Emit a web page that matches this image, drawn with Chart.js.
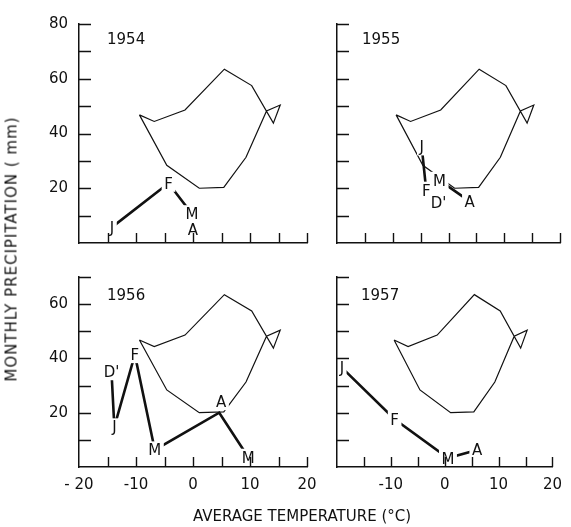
<!DOCTYPE html>
<html>
<head>
<meta charset="utf-8">
<script src="https://cdn.jsdelivr.net/npm/chart.js@4/dist/chart.umd.min.js"></script>
<style>
html, body { margin: 0; padding: 0; background: #fff; overflow: hidden; }
body { width: 571px; height: 527px; position: relative; font-family: "DejaVu Sans", sans-serif; color: #111; }
canvas { position: absolute; }
.ttl { position: absolute; font-size: 15px; line-height: 15px; white-space: nowrap; transform-origin: center; }
#xTitle { left: 302px; top: 516px; transform: translate(-50%, -50%); }
#yTitle { left: 12px; top: 249px; letter-spacing: 1px; transform: translate(-50%, -50%) rotate(-90deg); }
</style>
</head>
<body>
<canvas id="c1954"></canvas>
<canvas id="c1955"></canvas>
<canvas id="c1956"></canvas>
<canvas id="c1957"></canvas>
<div id="xTitle" class="ttl">AVERAGE TEMPERATURE (°C)</div>
<div id="yTitle" class="ttl">MONTHLY PRECIPITATION ( mm)</div>
<script>
// long term average loop (same in every panel)
const loopTemp = [-9.4, -6.8, -1.4, 5.5, 10.3, 14.1, 15.3, 12.9, 9.3, 5.4, 1.1, -4.6];
const loopPrecip = [46.8, 44.4, 48.6, 63.5, 57.5, 43.8, 50.4, 48.2, 31.3, 20.3, 20.0, 28.4];

const months1954 = ['J', 'F', 'M', 'A'];
const temp1954 = [-14.2, -4.3, -0.2, 0.0];
const precip1954 = [5.8, 21.8, 10.7, 5.1];

const months1955 = ['J', 'F', 'M', 'A'];
const temp1955 = [-4.8, -4.0, -1.6, 3.8];
const precip1955 = [35.1, 19.3, 22.9, 15.2];
const loneMonths1955 = ["D'"];
const loneTemp1955 = [-1.8];
const lonePrecip1955 = [14.9];

const months1956 = ["D'", 'J', 'F', 'M', 'A', 'M'];
const temp1956 = [-14.3, -13.8, -10.2, -6.7, 4.6, 9.7];
const precip1956 = [35.1, 14.8, 41.4, 6.3, 20.0, 3.6];

const months1957 = ['J', 'F', 'M', 'A'];
const temp1957 = [-19.1, -9.3, 0.6, 6.0];
const precip1957 = [36.6, 17.6, 3.3, 6.3];

const xLabelValues = [-20, -10, 0, 10, 20];
const xLabelTexts = ['- 20', '-10', '0', '10', '20'];
const yLabelValues = [20, 40, 60, 80];

const toPts = (xs, ys) => xs.map((v, i) => ({x: v, y: ys[i]}));

Chart.defaults.font.family = '"DejaVu Sans", sans-serif';
Chart.defaults.font.size = 15;
Chart.defaults.color = '#111';

const FONT = '15px "DejaVu Sans"';

const decor = {
    id: 'decor',
    afterDatasetsDraw(chart, args, opts) {
        const ctx = chart.ctx;
        const area = chart.chartArea;
        const xs = chart.scales.x, ys = chart.scales.y;
        ctx.save();
        ctx.font = FONT;
        // labels on white patches, cut the lines like in the print
        ctx.save();
        ctx.beginPath();
        ctx.rect(area.left + 1.5, area.top, area.right - area.left, area.bottom - area.top - 1.5);
        ctx.clip();
        chart.data.datasets.forEach((ds, i) => {
            if (!ds.monthLabels) return;
            const meta = chart.getDatasetMeta(i);
            ds.monthLabels.forEach((m, j) => {
                const el = meta.data[j];
                const nudge = (ds.labelNudge && ds.labelNudge[j]) || [0, 0];
                const cx = el.x + nudge[0], cy = el.y + nudge[1];
                const w = ctx.measureText(m).width;
                ctx.fillStyle = '#fff';
                ctx.fillRect(cx - w / 2 - 2.5, cy - 8.5, w + 5, 17);
                ctx.fillStyle = '#111';
                ctx.textAlign = 'center';
                ctx.fillText(m, cx, cy + 5.5);
            });
        });
        ctx.restore();

        // inward tick marks
        ctx.strokeStyle = '#111';
        ctx.lineWidth = 1.4;
        ctx.beginPath();
        xs.ticks.forEach(t => {
            if (t.value === xs.min) return;
            const px = Math.round(xs.getPixelForValue(t.value)) + 0.5;
            ctx.moveTo(px, area.bottom);
            ctx.lineTo(px, area.bottom - 10);
        });
        ys.ticks.forEach(t => {
            if (t.value === ys.min) return;
            const py = Math.round(ys.getPixelForValue(t.value)) + 0.5;
            ctx.moveTo(area.left, py);
            ctx.lineTo(area.left + 12, py);
        });
        ctx.stroke();

        // year tag
        ctx.fillStyle = '#111';
        ctx.textAlign = 'left';
        ctx.fillText(opts.year, area.left + opts.dx, area.top + opts.dy);
        ctx.restore();
    }
};

function makePanel(id, box, year, datasets) {
    const padL = 60, padT = 15, padB = 45;
    const cv = document.getElementById(id);
    cv.width = box.right - box.left + padL + box.padR;
    cv.height = box.bottom - box.top + padT + padB;
    cv.style.left = (box.left - padL) + 'px';
    cv.style.top = (box.top - padT) + 'px';

    const loop = toPts(loopTemp.concat(loopTemp[0]), loopPrecip.concat(loopPrecip[0]));
    new Chart(cv, {
        type: 'scatter',
        data: {
            datasets: datasets.concat([{
                data: loop,
                showLine: true,
                borderColor: '#111',
                borderWidth: 1.2,
                pointRadius: 0,
                tension: 0
            }])
        },
        options: {
            responsive: false,
            animation: false,
            devicePixelRatio: 1,
            layout: {padding: {left: 0, top: padT, right: box.padR, bottom: 0}},
            plugins: {
                legend: {display: false},
                tooltip: {enabled: false},
                decor: {year: year, dx: box.tagX, dy: box.tagY}
            },
            scales: {
                x: {
                    type: 'linear',
                    min: -20, max: 20,
                    afterFit: s => { s.height = padB; },
                    grid: {drawOnChartArea: false, drawTicks: false},
                    border: {display: true, color: '#111', width: 1.5},
                    ticks: {
                        stepSize: 5, autoSkip: false, maxRotation: 0, padding: 9,
                        callback: v => {
                            if (!box.xLabels) return '';
                            const k = xLabelValues.indexOf(v);
                            if (k < 0 || (box.skipFirstX && v === -20)) return '';
                            return xLabelTexts[k];
                        }
                    }
                },
                y: {
                    type: 'linear',
                    min: 0, max: box.yMax,
                    afterFit: s => { s.width = padL; },
                    grid: {drawOnChartArea: false, drawTicks: false},
                    border: {display: true, color: '#111', width: 1.5},
                    ticks: {
                        stepSize: 10, autoSkip: false, padding: 11,
                        callback: v => (box.yLabels && yLabelValues.includes(v)) ? String(v) : ''
                    }
                }
            }
        },
        plugins: [decor]
    });
}

const thick = (months, temps, precs, extra) => Object.assign({
    data: toPts(temps, precs),
    monthLabels: months,
    showLine: true,
    borderColor: '#111',
    borderWidth: 2.6,
    borderCapStyle: 'butt',
    pointRadius: 0,
    tension: 0
}, extra || {});

makePanel('c1954', {left: 79, right: 307, top: 19, bottom: 243, padR: 20, yMax: 80,
    xLabels: false, yLabels: true, tagX: 28, tagY: 20}, '1954',
    [thick(months1954, temp1954, precip1954)]);

makePanel('c1955', {left: 337, right: 560, top: 19, bottom: 243, padR: 11, yMax: 80,
    xLabels: false, yLabels: false, tagX: 25, tagY: 20}, '1955',
    [thick(months1955, temp1955, precip1955),
     thick(loneMonths1955, loneTemp1955, lonePrecip1955, {showLine: false})]);

makePanel('c1956', {left: 79, right: 307, top: 272, bottom: 467, padR: 20, yMax: 70,
    xLabels: true, yLabels: true, tagX: 28, tagY: 23}, '1956',
    [thick(months1956, temp1956, precip1956, {labelNudge: [null, null, null, null, [2, -11], null]})]);

makePanel('c1957', {left: 337, right: 560, top: 272, bottom: 467, padR: 11, yMax: 70,
    xLabels: true, yLabels: false, skipFirstX: true, tagX: 24, tagY: 23}, '1957',
    [thick(months1957, temp1957, precip1957)]);
</script>
</body>
</html>
